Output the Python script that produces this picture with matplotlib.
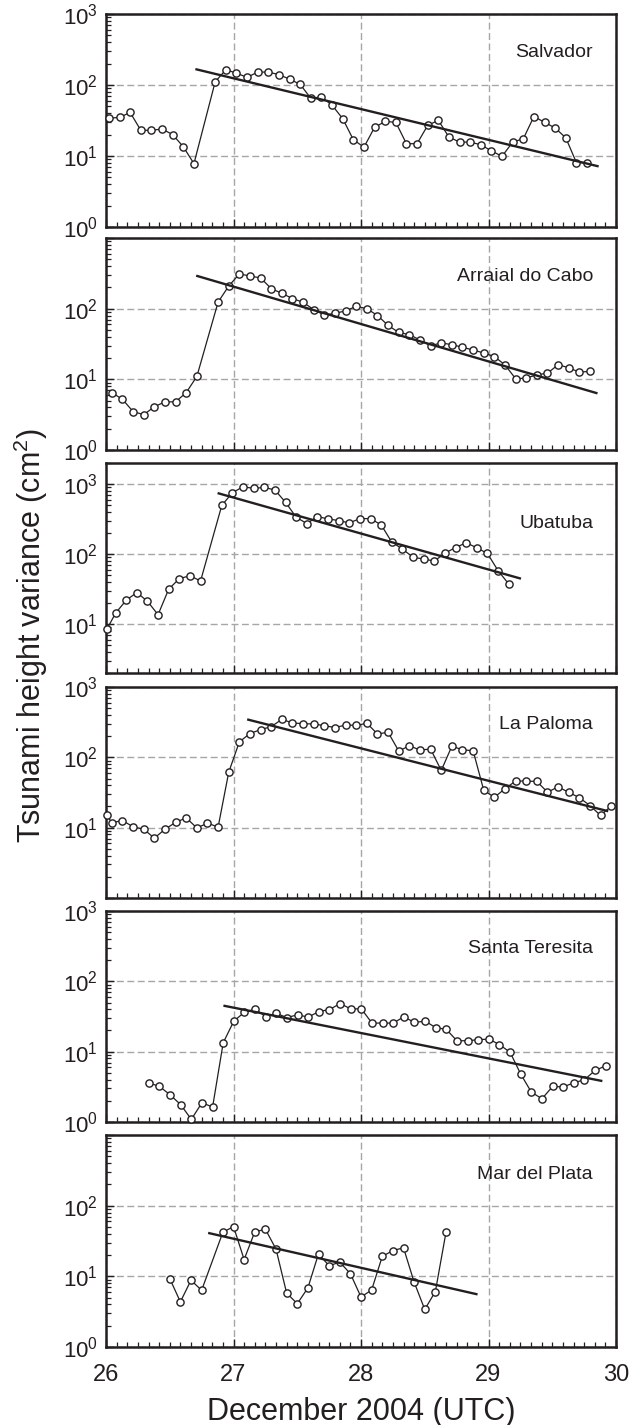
import numpy as np
import matplotlib
matplotlib.use("Agg")
import matplotlib.pyplot as plt
import matplotlib.ticker as mticker

plt.rcParams["font.family"] = ["Liberation Sans", "DejaVu Sans"]
plt.rcParams["mathtext.fontset"] = "custom"
plt.rcParams["mathtext.rm"] = "Liberation Sans"
plt.rcParams["mathtext.it"] = "Liberation Sans:italic"
plt.rcParams["mathtext.default"] = "regular"

# station names, top to bottom
stations = ["Salvador", "Arraial do Cabo", "Ubatuba", "La Paloma",
            "Santa Teresita", "Mar del Plata"]

# first sample (day of December 2004), samples every 2 h; None = no value
t_start = [26.023, 26.046, 26.075, 26.046, 26.336, 26.50]

# extra sample drawn at the left edge (Ubatuba, La Paloma)
edge_value = [None, None, 8.4, 14.9, None, None]

salvador = [34, 35, 41, 23, 23, 24, 20, 13.5, 7.8, None,
            111, 164, 147, 128, 152, 152, 140, 121, 102, 65,
            68, 52, 33.6, 17, 13.3, 25.3, 30.7, 29.8, 14.9, 14.9,
            27, 31.8, 18.5, 15.7, 15.7, 14.4, 11.8, 9.9, 15.7, 17.5,
            36, 29.8, 24.8, 18, 8.05, 8.05]

arraial = [6.5, 5.2, 3.5, 3.16, 4.1, 4.8, 4.8, 6.5, 11, None,
           124, 209, 310, 290, 272, 192, 165, 139, 123, 97,
           81, 86, 93, 108, 100, 80, 58, 46, 43, 36,
           30, 32.7, 31, 28.4, 26, 23.6, 21, 16, 10.2, 10.4,
           11.6, 12.2, 16.1, 14.6, 12.6, 13]

ubatuba = [14.3, 21.9, 28.2, 21.2, 13.6, 31.5, 44.6, 49, 41.3, None,
           497, 753, 916, 867, 897, 822, 549, 336, 273, 343,
           318, 301, 279, 321, 321, 261, 148, 118, 90, 85,
           79.5, 103, 124, 145, 123, 102, 58, 37.4]

la_paloma = [11.8, 12.6, 10.3, 9.5, 7.1, 9.5, 11.9, 13.8, 9.9, 11.6,
             10.2, 61.5, 166, 218, 248, 273, 347, 308, 301, 298,
             282, 265, 288, 285, 305, 215, 227, 123, 146, 127,
             131, 65, 144, 128, 124, 34, 27, 35.8, 46, 46,
             45.4, 32, 38, 31.8, 26.7, 20.6, 14.9, 20.4]

santa_teresita = [3.6, 3.2, 2.44, 1.76, 1.09, 1.88, 1.63, 13.4, 27.2, 36.4,
                  40.2, 31.6, 34.9, 30.6, 33.4, 31, 37.2, 39.7, 48.3, 40.6,
                  40.6, 25.5, 25.5, 25.5, 31.3, 26, 27.2, 22, 20.7, 14.3,
                  14.3, 14.8, 15.1, 12.6, 9.8, 4.8, 2.66, 2.14, 3.2, 3.16,
                  3.6, 4.0, 5.4, 6.3]

mar_del_plata = [9.3, 4.35, 8.8, 6.35, None, 42, 50.6, 17.3, 42.5, 46.4,
                 24.3, 5.8, 4.1, 6.85, 20.8, 14.1, 15.9, 10.9, 5.1, 6.4,
                 19.1, 23.2, 25.3, 8.3, 3.4, 6.1, 42]

series = [salvador, arraial, ubatuba, la_paloma, santa_teresita, mar_del_plata]

# exponential decay fits: (t0, v0, t1, v1)
fits = [(26.71, 166, 29.855, 7.2),
        (26.716, 290, 29.846, 6.4),
        (26.884, 736, 29.246, 45),
        (27.116, 343, 29.93, 17.3),
        (26.93, 44.8, 29.884, 3.85),
        (26.81, 40.8, 28.905, 5.6)]

ylims = [(1, 1000), (1, 1000), (2, 2000), (1, 1000), (1, 1000), (1, 1000)]
ylabels_shown = [[0, 1, 2, 3], [0, 1, 2], [1, 2, 3], [1, 2, 3], [0, 1, 2, 3], [0, 1, 2]]
label_y = [0.82, 0.82, 0.714, 0.82, 0.82, 0.816]

# panel (top, bottom) in pixels
panels_px = [(14, 227), (238, 450), (463, 673), (687, 898), (911, 1122), (1135, 1347)]

W, H = 642, 1425
fig = plt.figure(figsize=(W / 100, H / 100), dpi=100)
ink = "#231f20"
left, right = 106, 616

for i, name in enumerate(stations):
    top, bot = panels_px[i]
    ax = fig.add_axes([left / W, 1 - bot / H, (right - left) / W, (bot - top) / H])

    vals = series[i]
    t = [t_start[i] + k / 12 for k in range(len(vals))]
    tt = [a for a, v in zip(t, vals) if v is not None]
    vv = [v for v in vals if v is not None]
    if edge_value[i] is not None:
        tt = [26.006] + tt
        vv = [edge_value[i]] + vv

    ax.plot(tt, vv, "-", color=ink, lw=0.9, marker="o", ms=5.2,
            mfc="white", mec=ink, mew=1.0, clip_on=False, zorder=3)
    f = fits[i]
    ax.plot([f[0], f[2]], [f[1], f[3]], "-", color=ink, lw=1.7, zorder=4)

    ax.set_yscale("log")
    ax.set_xlim(26, 30)
    ax.set_ylim(*ylims[i])

    decades = [0, 1, 2, 3]
    ax.set_yticks([10.0 ** d for d in decades])
    ax.set_yticklabels([r"$10^{%d}$" % d if d in ylabels_shown[i] else "" for d in decades])
    ax.yaxis.set_minor_locator(mticker.LogLocator(base=10, subs=np.arange(2, 10)))
    ax.yaxis.set_minor_formatter(mticker.NullFormatter())
    ax.set_ylim(*ylims[i])

    ax.set_xticks([26, 27, 28, 29, 30])
    ax.xaxis.set_minor_locator(mticker.MultipleLocator(1 / 12))
    if i == len(stations) - 1:
        ax.set_xticklabels(["26", "27", "28", "29", "30"])
    else:
        ax.set_xticklabels([])

    ax.grid(True, which="major", color="#a6a6a6", lw=1.0, ls=(0, (5, 2.5)))
    ax.tick_params(axis="both", which="both", direction="in", colors=ink,
                   top=False, right=False)
    ax.tick_params(axis="both", which="major", length=6, width=1.0)
    ax.tick_params(axis="both", which="minor", length=3.5, width=0.9)
    ax.tick_params(axis="y", which="major", labelsize=16, pad=6)
    ax.tick_params(axis="x", which="major", labelsize=17, pad=12)
    for s in ax.spines.values():
        s.set_linewidth(1.8)
        s.set_color(ink)

    ax.text(0.955, label_y[i], name, transform=ax.transAxes, ha="right",
            va="center", fontsize=14, color=ink)

fig.text(31 / W, 1 - 636 / H, "Tsunami height variance (cm$^2$)", rotation=90,
         ha="center", va="center", fontsize=22, color=ink)
fig.text(361 / W, 1 - 1420 / H, "December 2004 (UTC)", ha="center",
         va="baseline", fontsize=22, color=ink)

fig.savefig("out.png", dpi=100)
